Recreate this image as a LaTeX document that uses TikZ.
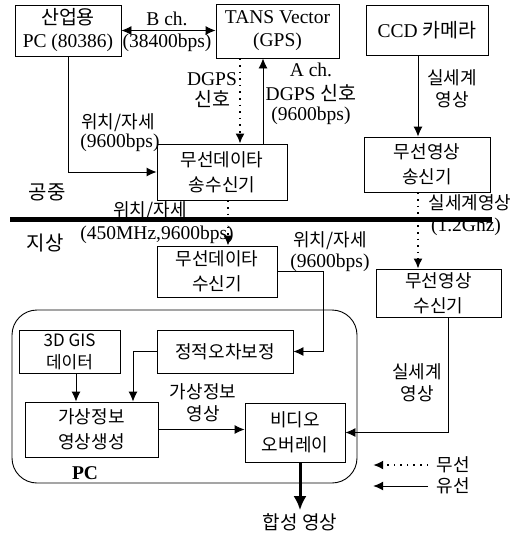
\documentclass[tikz,border=0pt]{standalone}
\usepackage{fontspec}
\setmainfont{Liberation Serif}
\newfontfamily\kr{Noto Sans CJK KR}
\usetikzlibrary{arrows.meta}
\begin{document}
\begin{tikzpicture}[x=1pt,y=-1pt,
  lat/.style={font=\fontsize{19.5}{23}\selectfont, inner sep=0pt, align=center},
  kor/.style={font=\kr\fontsize{18}{25}\selectfont, inner sep=0pt, align=center},
  box/.style={draw, line width=0.9pt, inner sep=0pt, align=center},
  tip/.style={-{Latex[length=10pt,width=9pt]}},
  wired/.style={line width=0.9pt, tip},
  wireless/.style={line width=1.6pt, dash pattern=on 1.6pt off 5pt, tip},
]
\useasboundingbox (0,0) rectangle (524,533);
\fill[white] (0,0) rectangle (524,533);

% boxes
\node[box, lat, minimum width=106pt, minimum height=51pt] (pc) at (68,30.5) {{\kr 산업용}\\PC (80386)};
\node[box, lat, minimum width=123pt, minimum height=54pt] (tans) at (277.5,31) {TANS Vector\\(GPS)};
\node[box, lat, minimum width=122pt, minimum height=50pt] (ccd) at (427,30) {CCD {\kr 카메라}};
\node[box, kor, minimum width=130pt, minimum height=56pt] (txd) at (222,172) {무선데이타\\송수신기};
\node[box, kor, minimum width=126pt, minimum height=55pt] (vtx) at (427,164.5) {무선영상\\송신기};
\node[box, kor, minimum width=120pt, minimum height=51pt] (rxd) at (217,271.5) {무선데이타\\수신기};
\node[box, kor, minimum width=125pt, minimum height=48pt] (vrx) at (438.5,293) {무선영상\\수신기};
\draw[line width=0.9pt, rounded corners=25pt] (12,310) rectangle (357,483);
\node[box, kor, minimum width=101pt, minimum height=43pt, font=\kr\fontsize{17}{22}\selectfont] (gis) at (69.5,351.5) {3D GIS\\데이터};
\node[box, kor, minimum width=136pt, minimum height=43pt] (err) at (225,351.5) {정적오차보정};
\node[box, kor, minimum width=133pt, minimum height=55pt] (vgen) at (91.5,429.5) {가상정보\\영상생성};
\node[box, kor, minimum width=100pt, minimum height=59pt] (ovl) at (295,432.5) {비디오\\오버레이};

% ground / air separator
\draw[line width=5pt] (10,219) -- (492,219);
\node[kor, font=\kr\fontsize{20}{24}\selectfont] (air) at (47,192) {공중};
\node[kor, font=\kr\fontsize{20}{24}\selectfont] (gnd) at (45,243) {지상};

% labels
\node[lat] (lb1) at (167,19) {B ch.};
\node[lat] (lb2) at (167,43) {(38400bps)};
\node[lat, font=\fontsize{19.5}{21}\selectfont] (ld1) at (212,90) {DGPS\\{\kr 신호}};
\node[lat] (la1) at (311,70) {A ch.};
\node[lat] (la2) at (311,93) {DGPS {\kr 신호}};
\node[lat] (la3) at (311,116) {(9600bps)};
\node[kor] (lp1) at (118,123) {위치/자세};
\node[lat] (lp2) at (120,143) {(9600bps)};
\node[kor, font=\kr\fontsize{18}{22}\selectfont] (lr1) at (452,89) {실세계\\영상};
\node[kor] (lw1) at (150,211) {위치/자세};
\node[lat] (lw2) at (157,235) {(450MHz,9600bps)};
\node[kor] (lv1) at (470,203) {실세계영상};
\node[lat] (lv2) at (466,227) {(1.2Ghz)};
\node[kor] (lq1) at (330,241) {위치/자세};
\node[lat] (lq2) at (330,263) {(9600bps)};
\node[kor, font=\kr\fontsize{18}{22}\selectfont] (lg1) at (203,403) {가상정보\\영상};
\node[kor, font=\kr\fontsize{18}{22}\selectfont] (lr2) at (417,383) {실세계\\영상};
\node[lat, font=\bfseries\fontsize{19.5}{23}\selectfont] (lpc) at (85,473) {PC};
\node[kor, font=\kr\fontsize{19}{24}\selectfont] (out) at (300,522) {합성 영상};

% legend
\node[kor] (lgw) at (453,465) {무선};
\node[kor] (lgc) at (453,486) {유선};
\draw[wireless] ([xshift=-8pt]lgw.west) -- ++(-55,0);
\draw[wired] ([xshift=-8pt]lgc.west) -- ++(-55,0);

% connectors
\draw[line width=0.9pt, {Latex[length=10pt,width=9pt]}-{Latex[length=10pt,width=9pt]}] (pc.east) -- (pc.east -| tans.west);
\draw[wired] (pc.south) |- (txd.west);
\draw[wireless] ([xshift=-37.5pt]tans.south) -- ([xshift=18pt]txd.north);
\draw[wired] ([xshift=41pt]txd.north) -- ([xshift=-14.5pt]tans.south);
\draw[wireless] ([xshift=6pt]txd.south) -- ([xshift=11pt]rxd.north);
\draw[wired] ([xshift=-9pt]ccd.south) -- ([xshift=-9pt]vtx.north);
\draw[wireless] ([xshift=-9pt]vtx.south) -- ([xshift=-20.5pt]vrx.north);
\draw[wired] (rxd.east) -- ++(46,0) |- (err.east);
\draw[wired] (err.west) -| ([xshift=41.5pt]vgen.north);
\draw[wired] ([xshift=6.5pt]gis.south) -- ([xshift=-15.5pt]vgen.north);
\draw[wired] (vgen.east) -- (vgen.east -| ovl.west);
\draw[wired] ([xshift=9.5pt]vrx.south) |- (ovl.east);
\draw[line width=3pt, -{Latex[length=14pt,width=13pt]}] ([xshift=5pt]ovl.south) -- ([yshift=3pt]out.north);
\end{tikzpicture}
\end{document}
